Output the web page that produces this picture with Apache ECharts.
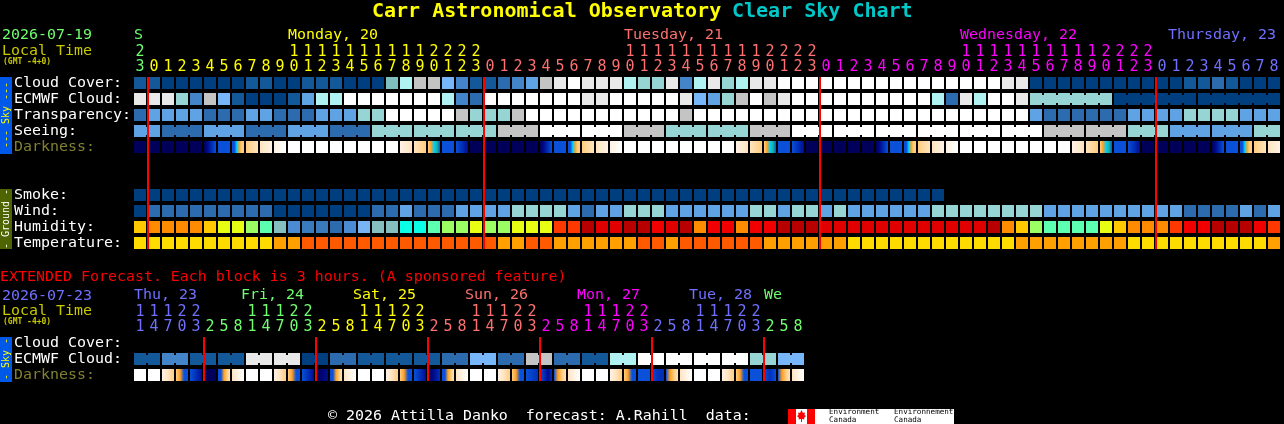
<!DOCTYPE html>
<html><head><meta charset="utf-8">
<style>html,body{margin:0;padding:0;background:#000;overflow:hidden}#c{width:1284px;height:424px}</style>
<script src="https://cdn.jsdelivr.net/npm/echarts@6/dist/echarts.min.js"></script>
</head><body><div id="c"></div>
<script>
// ---- tick labels
const hours = [23,
 0,1,2,3,4,5,6,7,8,9,10,11,12,13,14,15,16,17,18,19,20,21,22,23,
 0,1,2,3,4,5,6,7,8,9,10,11,12,13,14,15,16,17,18,19,20,21,22,23,
 0,1,2,3,4,5,6,7,8,9,10,11,12,13,14,15,16,17,18,19,20,21,22,23,
 0,1,2,3,4,5,6,7,8];
const extHours = [11,14,17,20,23,
 2,5,8,11,14,17,20,23, 2,5,8,11,14,17,20,23, 2,5,8,11,14,17,20,23,
 2,5,8,11,14,17,20,23, 2,5,8,11,14,17,20,23, 2,5,8];
const rowNames = ['Cloud Cover:','ECMWF Cloud:','Transparency:','Seeing:','Darkness:','','','Smoke:','Wind:','Humidity:','Temperature:'];
const extRowNames = ['Cloud Cover:','ECMWF Cloud:','Darkness:'];
const dayLabels = [['S',0,0,'#70ff70'],['Monday, 20',11,0,'#ffff00'],['Tuesday, 21',35,0,'#ff7070'],['Wednesday, 22',59,0,'#ff00ff'],['Thursday, 23',73,12,'#7070ff']];
const extDayLabels = [['Thu, 23',0,0,'#7070ff'],['Fri, 24',8,-5,'#70ff70'],['Sat, 25',16,-5,'#ffff00'],['Sun, 26',24,-5,'#ff7070'],['Mon, 27',32,-5,'#ff00ff'],['Tue, 28',40,-5,'#7070ff'],['We',45,0,'#70ff70']];
const midnights = [0,24,48,72];
const extMidnights = [4,12,20,28,36,44];

// ---- level series (index into the palettes)
const cloudCover = [1,1,0,0,0,0,0,0,1,1, 0,0,1,1,1,0,0,0,6,8, 9,9,5,3,1,1,2,3,4,9, 10,11,10,10,10,8,7,7,10,3,
 8,10,7,8,10,10,11,11,11,11, 11,11,11,11,11,11,11,11,11,11, 11,11,10,10,0,0,0,0,0,0, 0,0,0,0,0,1,1,2,1,0, 0,0];
const ecmwf = [10,10,10,7,3,9,5,1,0,0, 0,1,4,8,8,11,11,11,11,11, 11,11,8,3,2,11,11,11,11,11, 11,11,10,10,11,11,11,11,11,10,
 5,4,7,9,11,9,10,11,11,11, 11,11,11,11,11,11,11,8,2,10, 8,11,11,10,7,7,7,7,7,7, 0,0,0,0,0,0,0,0,0,0, 0,0];
const transparency = [2,4,4,4,4,2,2,2,4,4, 2,2,2,4,4,4,7,7,11,11, 11,11,11,9,7,7,7,9,11,11, 11,11,11,11,11,11,11,11,11,9,
 11,11,11,11,11,11,11,11,11,11, 11,11,11,11,11,11,11,11,11,11, 11,11,11,11,4,2,2,2,2,2, 2,4,4,4,4,7,7,7,7,4, 4,4];
const seeingBlocks = [4,2,4,2,4,2,7,7,7,9,11,11,9,7,7,9,11,11,11,11,11,11,9,9,7,4,4,7];
const smoke = [0,0,0,0,0,0,0,0,0,0, 0,0,0,0,0,0,0,0,0,0, 0,0,0,0,0,0,0,0,0,0, 0,0,0,0,0,0,0,0,0,0, 0,0,0,0,0,0,0,0,0,0, 0,0,0,0,0,0,0,0];
const wind = [0,2,2,2,2,2,2,2,2,2, 0,0,0,0,0,0,0,2,2,4, 2,2,2,4,4,4,4,7,7,7, 7,4,2,4,4,7,7,7,4,4,
 4,4,4,4,7,7,4,7,7,4, 7,4,4,4,4,4,4,7,7,7, 7,7,7,7,7,4,4,4,4,4, 4,4,4,4,4,2,2,2,2,4, 2,4];
const humidity = [0,1,1,1,1,0,2,2,3,4, 5,6,7,7,8,6,9,5,5,10, 10,4,3,3,2,3,3,2,2,2, 11,11,14,13,13,14,14,12,13,14,
 1,12,12,1,12,12,14,14,14,13, 13,13,13,13,13,13,13,13,13,13, 13,14,1,0,3,4,4,4,4,2, 0,1,1,1,11,12,12,14,14,14, 12,11];
const temperature = [0,0,0,0,0,0,0,0,0,0, 1,1,2,2,2,2,2,2,2,2, 2,2,2,2,2,2,1,1,2,2, 1,1,1,1,1,1,2,2,1,2,
 2,2,2,2,2,1,1,1,1,1, 1,0,0,0,0,0,0,0,0,0, 0,0,0,1,1,1,1,1,1,1, 1,0,0,0,0,0,0,0,0,0, 0,1];
const darkness = ['a','a','a','a','a','abcd','d','ddefgg','gh','hi',
 'iw','w','w','w','w','w','w','w','w','ih',
 'hg','gfetd','d','dcb','a','a','a','a','a','abcd',
 'd','ddefgg','gh','hi','iw','w','w','w','w','w',
 'w','w','w','ih','hg','gfetd','d','dcb','a','a',
 'a','a','a','abcd','d','ddefgg','gh','hi','iw','w',
 'w','w','w','w','w','w','w','ih','hg','gfetd',
 'd','dcb','a','a','a','a','a','abcd','d','ddefgg',
 'gh','hi'];
const extEcmwfPairs = [1,3,1,1,10,10,0,2,1,1,1,2,5,2,9,2,1,8,11,11,11,11,7,5];
const extDarkness = ['w','w','ihg','gfdd','dcb','a','ddfgh','hiw',
 'w','w','ihg','gfdd','dcb','ab','ddfgh','hiw',
 'w','w','ihg','gfdd','dcb','abc','ddfgh','hiw',
 'w','w','ihg','gfdd','dc','dcbc','dfgh','hiw',
 'w','w','ihg','gfdd','d','dcc','dfgh','hiw',
 'w','w','ihg','gfdd','d','dcd','dfgh','hiw'];

// ---- palettes
const skyColors = ['#003f7f','#135898','#2c6bae','#4484c8','#60a3e5','#77b6f8','#7fbfbf','#96d5d4','#b0f2f2','#c4c4c4','#e9e9e9','#ffffff'];
const humColors = ['#ffc800','#ff8c00','#e8ff14','#9bff64','#5dffb0','#85bfbf','#4a8bd4','#3a7bbd','#2c6bae','#78b4f4','#0affe6','#ff3800','#f00000','#e10000','#b90000'];
const tempColors = ['#ffdc00','#ffa000','#ff5a00'];
const darkColors = {a:'#00005a',b:'#000c8c',c:'#0030b8',d:'#0a50d8',e:'#00d0ff',t:'#20b0a0',f:'#ffa020',g:'#ffcc80',h:'#ffe4c0',i:'#fff2e4',w:'#ffffff'};

const FONT = '"DejaVu Sans Mono", monospace';
const seeing = hours.map((_, i) => seeingBlocks[Math.floor((i + 1) / 3)]);
const extEcmwf = extHours.map((_, i) => extEcmwfPairs[Math.floor(i / 2)]);

const HALF = 6;
function cellSeries(name, gridIdx, row, values, fillOf, bridged) {
  return {
    name, type:'custom', xAxisIndex:gridIdx, yAxisIndex:gridIdx, silent:true, animation:false, clip:false, z:2,
    encode:{x:0,y:1},
    data: values.map((_, i) => [i, row]),
    renderItem(params, api) {
      const i = api.value(0), c = api.coord([i, row]);
      const fill = fillOf(values[i]);
      const kids = [{type:'rect', shape:{x:c[0]-HALF, y:c[1]-HALF, width:HALF*2, height:HALF*2}, style:{fill}}];
      if (bridged && bridged(i) && i + 1 < values.length) {
        kids.push({type:'rect', shape:{x:c[0]+HALF, y:c[1]-4, width:2, height:8}, style:{fill}});
      }
      return {type:'group', children:kids};
    }
  };
}
const flat = pal => v => pal[v];
function gradient(code) {
  if (code.length === 1) return darkColors[code];
  const n = code.length - 1;
  return {type:'linear', x:0, y:0, x2:1, y2:0, global:false,
    colorStops: code.split('').map((k, j) => ({offset:j/n, color:darkColors[k]}))};
}
function redLines(gridIdx, list, firstRow, lastRow) {
  return {
    type:'custom', xAxisIndex:gridIdx, yAxisIndex:gridIdx, silent:true, animation:false, clip:false, z:5,
    encode:{x:0,y:1}, data:list.map(k => [k, firstRow]),
    renderItem(params, api) {
      const a = api.coord([api.value(0), firstRow]), b = api.coord([api.value(0), lastRow]);
      return {type:'rect', shape:{x:a[0]+7, y:a[1]-HALF, width:2, height:b[1]-a[1]+HALF*2}, style:{fill:'#ff0000'}};
    }
  };
}
function dayText(gridIdx, list, dy) {
  return {
    type:'custom', xAxisIndex:gridIdx, yAxisIndex:gridIdx, silent:true, animation:false, clip:false, z:3,
    encode:{x:0,y:1}, data:list.map(d => [d[1], 0]),
    renderItem(params, api) {
      const d = list[params.dataIndex], c = api.coord([d[1], 0]);
      return {type:'text', style:{text:d[0], x:c[0]-HALF+d[2], y:c[1]+dy, fill:d[3], font:'14.95px '+FONT, textAlign:'left', textVerticalAlign:'middle'}};
    }
  };
}
function colourRuns(runs) { return i => { for (const r of runs) if (i <= r[0]) return r[1]; return '#fff'; }; }
const topColour = colourRuns([[0,'#70ff70'],[24,'#ffff00'],[48,'#ff7070'],[72,'#ff00ff'],[81,'#7070ff']]);
const extColour = colourRuns([[4,'#7070ff'],[12,'#70ff70'],[20,'#ffff00'],[28,'#ff7070'],[36,'#ff00ff'],[44,'#7070ff'],[47,'#70ff70']]);
function hourAxis(gridIdx, data, colour, margin) {
  return {gridIndex:gridIdx, type:'category', position:'top', data:data.map(String), boundaryGap:true,
    axisLine:{show:false}, axisTick:{show:false}, splitLine:{show:false},
    axisLabel:{interval:0, margin, fontFamily:FONT, fontSize:15, lineHeight:15, verticalAlign:'bottom', align:'center',
      color:(v,i)=>colour(i),
      formatter:v=>(+v>=10?Math.floor(+v/10):' ')+'\n'+(+v%10)}};
}
function rowAxis(gridIdx, names) {
  return {gridIndex:gridIdx, type:'category', inverse:true, data:names,
    axisLine:{show:false}, axisTick:{show:false}, splitLine:{show:false},
    axisLabel:{interval:0, margin:119, align:'left', verticalAlign:'middle', padding:[0,0,3,0], fontFamily:FONT, fontSize:14.95, color:v=>v==='Darkness:'?'#808030':'#ffffff'}};
}
function txt(text, x, y, fill, size, extra) {
  return Object.assign({type:'text', x, y, silent:true, z:10,
    style:{text, fill, font:(size)+'px '+FONT, textAlign:'left', textVerticalAlign:'middle'}}, extra||{});
}
function vert(text, cx, cy, fill) {
  return {type:'text', x:cx, y:cy, rotation:Math.PI/2, silent:true, z:11,
    style:{text, fill, font:'10px '+FONT, textAlign:'center', textVerticalAlign:'middle'}};
}
function box(x,y,w,h,fill,z){return {type:'rect', silent:true, z:z||10, shape:{x,y,width:w,height:h}, style:{fill}};}
function gmt(y){return {type:'text',x:3,y,silent:true,z:10,style:{text:'(GMT -4+0)',fill:'#c8c800',font:'bold 8px '+FONT,textAlign:'left',textVerticalAlign:'middle'}};}

const graphic = [
  txt('Carr Astronomical Observatory',372,12,'#ffff00',20,{style:{text:'Carr Astronomical Observatory',fill:'#ffff00',font:'bold 20px "DejaVu Sans Mono"',textAlign:'left',textVerticalAlign:'middle'}}),
  txt('Clear Sky Chart',732,12,'#00c8c8',20,{style:{text:'Clear Sky Chart',fill:'#00c8c8',font:'bold 20px "DejaVu Sans Mono"',textAlign:'left',textVerticalAlign:'middle'}}),
  txt('2026-07-19',2,35,'#70ff70',14.95), txt('Local Time',2,51,'#c8c800',14.95), gmt(62),
  box(0,77,12,77,'#0058e8'), vert('--- Sky ---',6,115,'#ffff00'),
  box(0,189,12,60,'#4e6400'), vert('- Ground -',6,219,'#ffffff'),
  txt('EXTENDED Forecast. Each block is 3 hours. (A sponsored feature)',0,277,'#ff0000',14.95),
  txt('2026-07-23',2,296,'#7070ff',14.95), txt('Local Time',2,311,'#c8c800',14.95), gmt(322),
  box(0,337,12,45,'#0058e8'), vert('- Sky -',6,359,'#ffff00'),
  txt('\u00a9 2026 Attilla Danko  forecast: A.Rahill  data:',328,416,'#ffffff',14.95),
  box(788,409,166,15,'#ffffff'),
  box(788,409,8,15,'#ff0000',11), box(807,409,8,15,'#ff0000',11),
  {type:'polygon', silent:true, z:12, shape:{points:[[801.5,410],[803,413],[805,412.5],[804.5,415],[806,416],[804,418],[804.5,419.5],[802,419],[802,422],[801,422],[801,419],[798.5,419.5],[799,418],[797,416],[798.5,415],[798,412.5],[800,413]]}, style:{fill:'#ff0000'}},
  txt('Environment',829,412.5,'#000000',7.6,{z:12}), txt('Canada',829,420,'#000000',7.6,{z:12}),
  txt('Environnement',894,412.5,'#000000',7.6,{z:12}), txt('Canada',894,420,'#000000',7.6,{z:12})
];

const series = [
  cellSeries('Cloud Cover',0,0,cloudCover,flat(skyColors)),
  cellSeries('ECMWF Cloud',0,1,ecmwf,flat(skyColors),i=>i>=64&&(i-64)%6!==5),
  cellSeries('Transparency',0,2,transparency,flat(skyColors)),
  cellSeries('Seeing',0,3,seeing,flat(skyColors),i=>Math.floor((i+1)/3)===Math.floor((i+2)/3)),
  cellSeries('Darkness',0,4,darkness,gradient),
  cellSeries('Smoke',0,7,smoke,flat(skyColors)),
  cellSeries('Wind',0,8,wind,flat(skyColors)),
  cellSeries('Humidity',0,9,humidity,flat(humColors)),
  cellSeries('Temperature',0,10,temperature,flat(tempColors)),
  cellSeries('Ext ECMWF',1,1,extEcmwf,flat(skyColors),i=>i%2===0),
  cellSeries('Ext Darkness',1,2,extDarkness,gradient),
  redLines(0,midnights,0,10),
  redLines(1,extMidnights,0,2),
  dayText(0,dayLabels,-48),
  dayText(1,extDayLabels,-48)
];

const chart = echarts.init(document.getElementById('c'), null, {renderer:'canvas', devicePixelRatio:1});
chart.setOption({
  backgroundColor:'#000000', animation:false, tooltip:{show:false},
  grid:[{left:133,top:75,width:1148,height:176,containLabel:false},{left:133,top:335,width:672,height:48,containLabel:false}],
  xAxis:[hourAxis(0,hours,topColour,0),hourAxis(1,extHours,extColour,0)],
  yAxis:[rowAxis(0,rowNames),rowAxis(1,extRowNames)],
  graphic:{elements:graphic},
  series
});
</script></body></html>
